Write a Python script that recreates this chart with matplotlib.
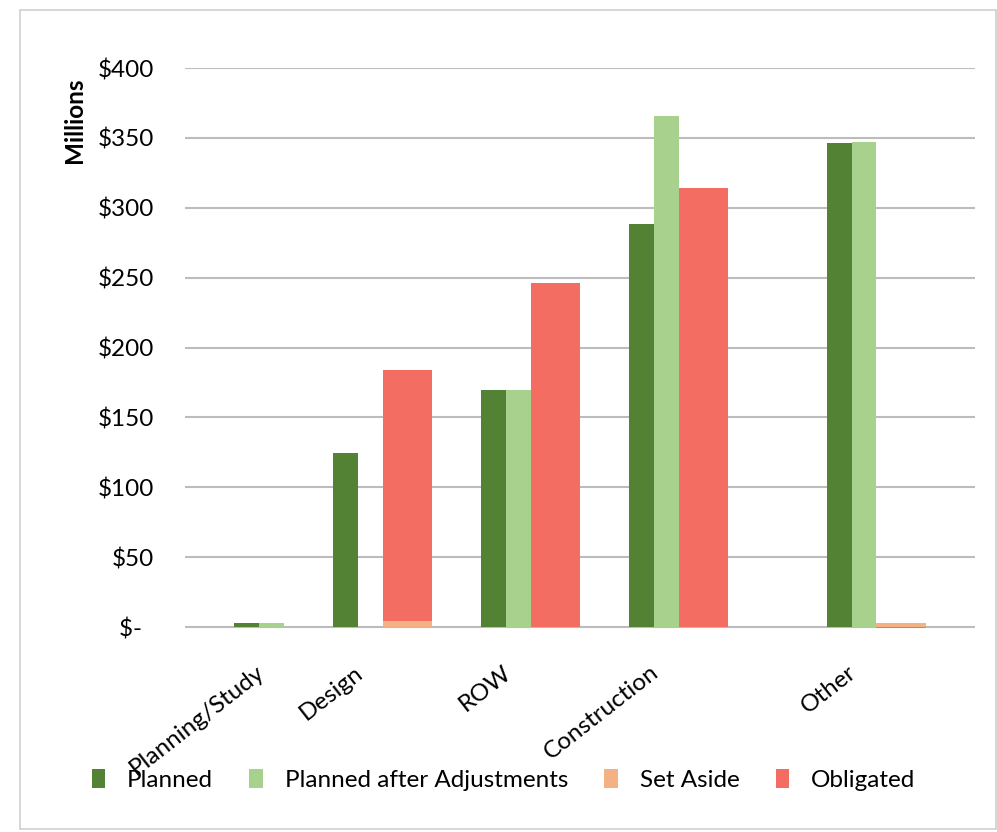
import numpy as np
import matplotlib.pyplot as plt
from matplotlib.patches import Rectangle

plt.rcParams["font.family"] = ["Lato", "DejaVu Sans"]
plt.rcParams["font.size"] = 17.5

categories = ["Planning/Study", "Design", "ROW", "Construction", "Other"]
planned = [3.2, 124.5, 169.5, 288.5, 346.0]
planned_adj = [3.2, 0.0, 169.5, 366.0, 347.0]
set_aside = [0.0, 4.0, 0.0, 0.0, 3.0]
obligated = [0.0, 180.0, 246.0, 314.0, -0.8]
# left edge of each category group on a 16-unit axis
group_pos = [1, 3, 6, 9, 13]

cols = ["#548235", "#a9d18e", "#f4b183", "#f46d63"]

fig = plt.figure(figsize=(9.97, 8.32), dpi=100)
ax = fig.add_axes([185 / 997, 1 - 631.2 / 832, 790 / 997, (631.2 - 68) / 832])

x = np.array(group_pos, dtype=float)
w = 0.5
ax.bar(x, planned, width=w, align="edge", color=cols[0], label="Planned", zorder=3)
ax.bar(x + w, planned_adj, width=w, align="edge", color=cols[1],
       label="Planned after Adjustments", zorder=3)
ax.bar(x + 2 * w, set_aside, width=2 * w, align="edge", color=cols[2],
       label="Set Aside", zorder=3)
ob = np.array(obligated)
ax.bar(x + 2 * w, ob, width=2 * w, align="edge", color=cols[3],
       bottom=np.where(ob > 0, set_aside, 0), label="Obligated", zorder=3)

ax.set_xlim(0, 16)
ax.set_ylim(-3, 400)
ax.set_yticks(np.arange(0, 401, 50))
ax.set_yticklabels(["$-  "] + [f"${v}" for v in range(50, 401, 50)])
ax.grid(axis="y", color="#bcbcbc", linewidth=1.5, zorder=0)
for s in ax.spines.values():
    s.set_visible(False)
ax.tick_params(axis="y", length=0, pad=22)
ax.set_xticks(x + 0.42)
ax.set_xticklabels(categories, rotation=38, ha="right", va="top",
                   rotation_mode="anchor")
ax.tick_params(axis="x", length=0, pad=22)

fig.text(74 / 997, 1 - 120 / 832, "Millions", rotation=90, fontweight="bold",
         fontsize=17.5, ha="center", va="center")

fig.legend(loc="center", bbox_to_anchor=(0.505, 1 - 780 / 832), ncol=4,
           frameon=False, handlelength=0.55, handleheight=0.85, handletextpad=0.9,
           columnspacing=1.5, fontsize=17.5)

fig.patches.append(Rectangle((20 / 997, 1 - 829 / 832), 976 / 997, 819 / 832,
                             transform=fig.transFigure, fill=False,
                             edgecolor="#d0d0d0", linewidth=1.2))

plt.savefig("out.png", dpi=100)
